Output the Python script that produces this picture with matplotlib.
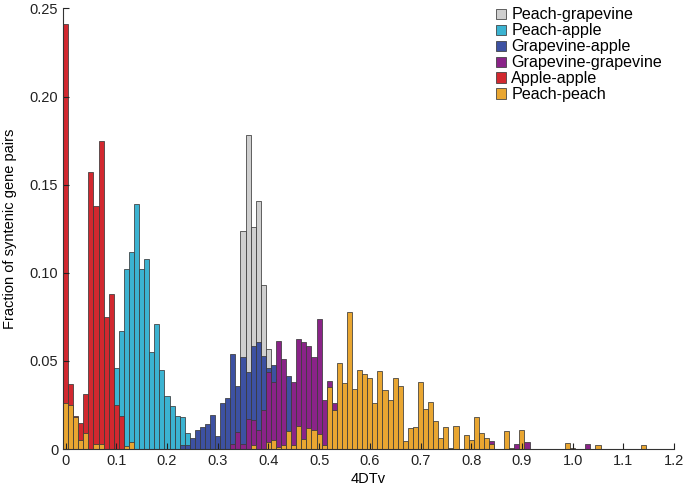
import numpy as np
import matplotlib
matplotlib.use("Agg")
import matplotlib.pyplot as plt

plt.rcParams["font.family"] = ["Liberation Sans", "DejaVu Sans"]

bin_width = 0.01

# fraction per 4DTv bin; each list starts at its own first bin
peach_grapevine_start = 0.35
peach_grapevine = [0.124, 0.178, 0.126, 0.141, 0.093, 0.057]

peach_apple_start = 0.10
peach_apple = [0.046, 0.067, 0.102, 0.112, 0.139, 0.102, 0.108, 0.055, 0.071,
               0.045, 0.030, 0.0245, 0.019, 0.018, 0.009]

grapevine_apple_start = 0.23
grapevine_apple = [0.0025, 0.0025, 0.0062, 0.011, 0.0128, 0.0142, 0.0194, 0.0075,
                   0.0264, 0.029, 0.0538, 0.0359, 0.0525, 0.0436, 0.0586, 0.0606,
                   0.0529, 0.046, 0.048, 0.040, 0.035, 0.0416]

grapevine_grapevine_start = 0.33
grapevine_grapevine = [0.003, 0.0095, 0.003, 0.017, 0.0166, 0.011, 0.022, 0.044,
                       0.038, 0.0616, 0.051, 0.0, 0.0378, 0.0623, 0.061, 0.0586,
                       0.052, 0.0737, 0.0276, 0.0387, 0.0264,
                       0, 0, 0, 0, 0, 0, 0, 0, 0, 0, 0, 0, 0, 0, 0,
                       0, 0, 0, 0, 0, 0, 0, 0, 0, 0, 0, 0, 0, 0, 0,
                       0.0047, 0, 0, 0, 0, 0.0028, 0, 0.0041,
                       0, 0, 0, 0, 0, 0, 0, 0, 0, 0, 0, 0.0028]

apple_apple_start = 0.0
apple_apple = [0.241, 0.037, 0.019, 0.015, 0.031, 0.157, 0.138, 0.175, 0.075,
               0.088, 0.025, 0.019]

peach_peach_start = 0.0
peach_peach = [0.026, 0.025, 0.018, 0.005, 0.009, 0, 0.003, 0.003, 0, 0,
               0, 0, 0.002, 0.004, 0, 0, 0, 0, 0, 0,
               0, 0, 0, 0, 0, 0, 0, 0, 0, 0,
               0, 0, 0, 0, 0, 0, 0, 0.0025, 0, 0,
               0.004, 0.005, 0.001, 0.0025, 0.010, 0.0025, 0.013, 0.0057, 0.012, 0.011,
               0.0087, 0.0025, 0.035, 0.022, 0.0487, 0.0374, 0.0778, 0.034, 0.045, 0.0425,
               0.0404, 0.026, 0.0444, 0.0337, 0.028, 0.0404, 0.036, 0.0045, 0.012, 0.0125,
               0.038, 0.023, 0.0268, 0.0157, 0.0062, 0.0125, 0.0008, 0.013, 0, 0.0081,
               0.0049, 0.018, 0.0094, 0.0062, 0.003, 0, 0, 0.010, 0.0008, 0,
               0.0106, 0, 0, 0, 0, 0, 0, 0, 0, 0.0034,
               0.0005, 0, 0, 0, 0, 0.0025, 0, 0, 0, 0,
               0, 0, 0, 0, 0.0025]

series = [
    ("Peach-grapevine", peach_grapevine_start, peach_grapevine, "#cfcfcf"),
    ("Peach-apple", peach_apple_start, peach_apple, "#3bb3d1"),
    ("Grapevine-apple", grapevine_apple_start, grapevine_apple, "#3d51a2"),
    ("Grapevine-grapevine", grapevine_grapevine_start, grapevine_grapevine, "#8a2388"),
    ("Apple-apple", apple_apple_start, apple_apple, "#d2282f"),
    ("Peach-peach", peach_peach_start, peach_peach, "#e9a631"),
]

fig = plt.figure(figsize=(6.85, 4.93), dpi=100)
ax = fig.add_axes([0.092, 0.089, 0.892, 0.894])

handles = []
for label, start, vals, color in series:
    vals = np.array(vals, dtype=float)
    x = start + np.arange(len(vals)) * bin_width
    keep = vals > 0
    bars = ax.bar(x[keep], vals[keep], width=bin_width, color=color,
                  edgecolor="#3a3a3a", linewidth=0.55, label=label)
    handles.append(bars)

ax.set_xlim(-0.005, 1.2)
ax.set_ylim(0, 0.25)

xt = np.round(np.arange(0, 1.21, 0.1), 1)
ax.set_xticks(xt)
ax.set_xticklabels(["0"] + [f"{v:.1f}" for v in xt[1:]])
yt = np.round(np.arange(0, 0.251, 0.05), 2)
ax.set_yticks(yt)
ax.set_yticklabels(["0"] + [f"{v:.2f}" for v in yt[1:]])

ax.tick_params(direction="in", length=4, width=0.8, labelsize=10.5, colors="#222222")
for s in ["top", "right"]:
    ax.spines[s].set_visible(False)
for s in ["left", "bottom"]:
    ax.spines[s].set_linewidth(0.8)
    ax.spines[s].set_color("#333333")

ax.set_xlabel("4DTv", fontsize=10.5, labelpad=3)
ax.set_ylabel("Fraction of syntenic gene pairs", fontsize=10.5, labelpad=9)

leg = ax.legend(handles=handles, loc="upper left", bbox_to_anchor=(0.724, 0.985),
                bbox_transform=fig.transFigure, frameon=False, fontsize=11.6,
                handlelength=0.6, handleheight=0.6, handletextpad=0.35,
                labelspacing=0.06, borderaxespad=0, borderpad=0)

fig.savefig("out.png", dpi=100)
